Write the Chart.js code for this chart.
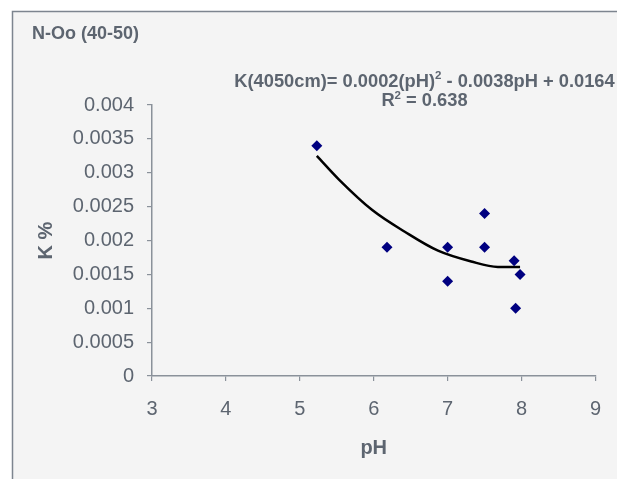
<!DOCTYPE html>
<html>
<head>
<meta charset="utf-8">
<style>
  html, body { margin: 0; padding: 0; background: #ffffff; }
  #wrap { width: 617px; height: 479px; position: relative; }
</style>
<script src="https://cdn.jsdelivr.net/npm/chart.js@4/dist/chart.umd.min.js"></script>
</head>
<body>
<div id="wrap"><canvas id="c" width="617" height="479"></canvas></div>
<script>
// ---- data ----
const chartTitle = "N-Oo (40-50)";
const xTitle = "pH";
const yTitle = "K %";
const eqMain = "K(4050cm)= 0.0002(pH)";
const eqSup = "2";
const eqRest = " - 0.0038pH + 0.0164";
const r2Label = "R";
const r2Sup = "2";
const r2Rest = " = 0.638";

const phValues = [5.23, 6.18, 7.0, 7.0, 7.5, 7.5, 7.9, 7.98, 7.92];
const kValues  = [0.0034, 0.0019, 0.0019, 0.0014, 0.0024, 0.0019, 0.0017, 0.0015, 0.0010];

const trendPH = [5.23, 5.53, 5.98, 6.42, 6.87, 7.32, 7.68, 7.98];
const trendK  = [0.00325, 0.0029, 0.00245, 0.00213, 0.00185, 0.00169, 0.00161, 0.00161];

const xTicks = [3, 4, 5, 6, 7, 8, 9];
const yTicks = [0, 0.0005, 0.001, 0.0015, 0.002, 0.0025, 0.003, 0.0035, 0.004];
const yTickLabels = ["0", "0.0005", "0.001", "0.0015", "0.002", "0.0025", "0.003", "0.0035", "0.004"];

// ---- styles ----
const textColor = "#5d6570";
const axisColor = "#8a919a";
const panelColor = "#f4f4f4";
const frameColor = "#7d858f";
const FONT = "'Liberation Sans', Arial, sans-serif";

const scatterData = phValues.map((x, i) => ({ x: x, y: kValues[i] }));
const trendData = trendPH.map((x, i) => ({ x: x, y: trendK[i] }));

const decorPlugin = {
  id: 'decor',
  beforeDraw(chart) {
    const ctx = chart.ctx;
    ctx.save();
    ctx.fillStyle = "#ffffff";
    ctx.fillRect(0, 0, chart.width, chart.height);
    ctx.fillStyle = panelColor;
    ctx.fillRect(12, 11, chart.width - 12, chart.height - 11);
    ctx.strokeStyle = frameColor;
    ctx.lineWidth = 1.5;
    ctx.beginPath();
    ctx.moveTo(12.5, chart.height);
    ctx.lineTo(12.5, 11.5);
    ctx.lineTo(chart.width, 11.5);
    ctx.stroke();
    ctx.restore();
  },
  afterDraw(chart) {
    const ctx = chart.ctx;
    ctx.save();
    ctx.fillStyle = textColor;
    ctx.textBaseline = "alphabetic";
    // chart title
    ctx.font = "bold 18px " + FONT;
    ctx.textAlign = "left";
    ctx.fillText(chartTitle, 32, 39);

    // equation
    const eqSize = 18.3;
    const supSize = 11.5;
    ctx.font = "bold " + eqSize + "px " + FONT;
    const w1 = ctx.measureText(eqMain).width;
    const w3 = ctx.measureText(eqRest).width;
    ctx.font = "bold " + supSize + "px " + FONT;
    const w2 = ctx.measureText(eqSup).width;
    const total = w1 + w2 + w3;
    const cx = 424.5;
    let x0 = cx - total / 2;
    const base1 = 86.5;
    ctx.font = "bold " + eqSize + "px " + FONT;
    ctx.fillText(eqMain, x0, base1);
    ctx.font = "bold " + supSize + "px " + FONT;
    ctx.fillText(eqSup, x0 + w1, base1 - 7.5);
    ctx.font = "bold " + eqSize + "px " + FONT;
    ctx.fillText(eqRest, x0 + w1 + w2, base1);

    // R^2
    const rW1 = ctx.measureText(r2Label).width;
    const rW3 = ctx.measureText(r2Rest).width;
    ctx.font = "bold " + supSize + "px " + FONT;
    const rW2 = ctx.measureText(r2Sup).width;
    const rTotal = rW1 + rW2 + rW3;
    let rx = cx - rTotal / 2;
    const base2 = 106;
    ctx.font = "bold " + eqSize + "px " + FONT;
    ctx.fillText(r2Label, rx, base2);
    ctx.font = "bold " + supSize + "px " + FONT;
    ctx.fillText(r2Sup, rx + rW1, base2 - 7.5);
    ctx.font = "bold " + eqSize + "px " + FONT;
    ctx.fillText(r2Rest, rx + rW1 + rW2, base2);
    ctx.restore();
  }
};

new Chart(document.getElementById('c'), {
  type: 'scatter',
  data: {
    datasets: [
      {
        label: 'K',
        data: scatterData,
        pointStyle: 'rectRot',
        pointRadius: 5.5,
        pointBackgroundColor: '#000080',
        pointBorderColor: '#000080',
        pointBorderWidth: 0,
        showLine: false,
        order: 1
      },
      {
        label: 'Trend',
        data: trendData,
        showLine: true,
        pointRadius: 0,
        borderColor: '#000000',
        borderWidth: 2.5,
        fill: false,
        tension: 0.4,
        cubicInterpolationMode: 'monotone',
        order: 2
      }
    ]
  },
  options: {
    responsive: false,
    animation: false,
    devicePixelRatio: 1,
    layout: { padding: { top: 105, right: 19, left: 0, bottom: 0 } },
    plugins: {
      legend: { display: false },
      tooltip: { enabled: false },
      title: { display: false }
    },
    scales: {
      x: {
        type: 'linear',
        min: xTicks[0],
        max: xTicks[xTicks.length - 1],
        afterBuildTicks: (s) => { s.ticks = xTicks.map(v => ({ value: v })); },
        afterFit: (s) => { s.height = 103; },
        ticks: {
          color: textColor,
          font: { family: FONT, size: 20 },
          padding: 16,
          callback: (v) => String(v)
        },
        grid: { drawOnChartArea: false, drawTicks: true, tickLength: 5, color: axisColor, lineWidth: 1.2 },
        border: { display: true, color: axisColor, width: 1.5 },
        title: {
          display: true,
          text: xTitle,
          color: textColor,
          font: { family: FONT, size: 20, weight: 'bold' },
          padding: { top: 0, bottom: 19 }
        }
      },
      y: {
        type: 'linear',
        min: yTicks[0],
        max: yTicks[yTicks.length - 1],
        afterBuildTicks: (s) => { s.ticks = yTicks.map(v => ({ value: v })); },
        afterFit: (s) => { s.width = 152; },
        ticks: {
          color: textColor,
          font: { family: FONT, size: 20 },
          padding: 13,
          callback: (v) => {
            const i = yTicks.findIndex(t => Math.abs(t - v) < 1e-9);
            return i >= 0 ? yTickLabels[i] : '';
          }
        },
        grid: { drawOnChartArea: false, drawTicks: true, tickLength: 5, color: axisColor, lineWidth: 1.2 },
        border: { display: true, color: axisColor, width: 1.5 },
        title: {
          display: true,
          text: yTitle,
          color: textColor,
          font: { family: FONT, size: 20, weight: 'bold' },
          padding: { top: 34, bottom: 0 }
        }
      }
    }
  },
  plugins: [decorPlugin]
});
</script>
</body>
</html>
